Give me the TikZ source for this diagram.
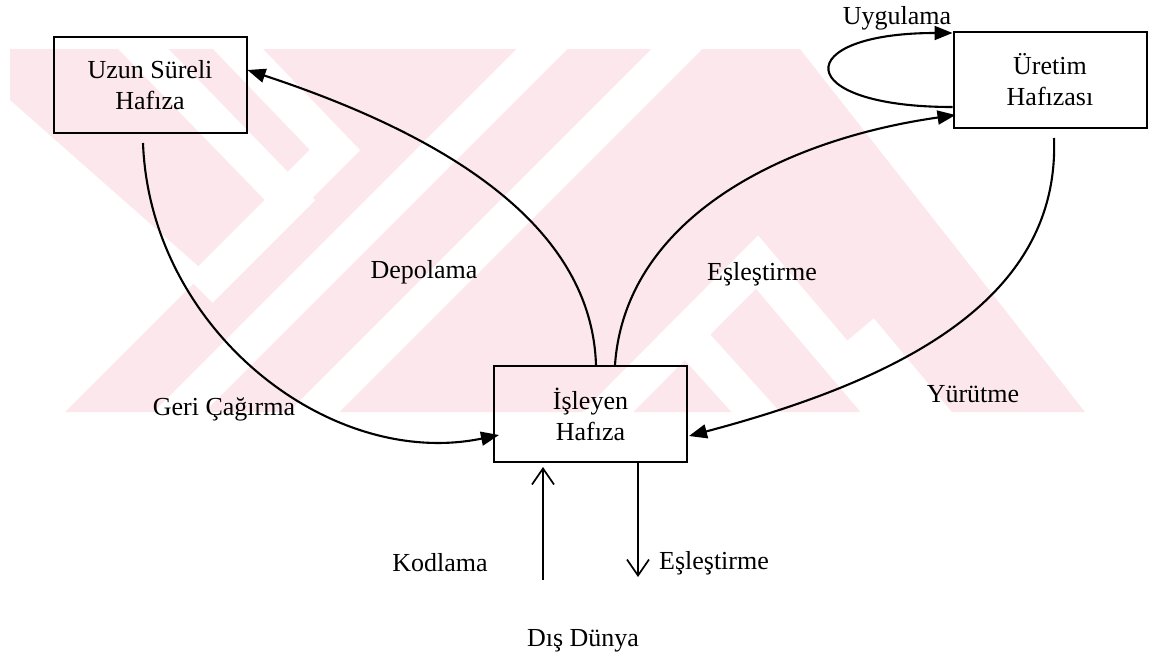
\documentclass[tikz,border=0pt]{standalone}
\usepackage{fontspec}
\setmainfont{Liberation Serif}
\usetikzlibrary{arrows.meta,calc}
\definecolor{wm}{RGB}{252,232,236}
\begin{document}
\begin{tikzpicture}[x=1pt,y=-1pt,
  box/.style={draw,line width=2pt,minimum width=193pt,minimum height=96pt,inner sep=0pt,align=center,font=\fontsize{26}{31}\selectfont},
  lbl/.style={font=\fontsize{26}{31}\selectfont,inner sep=0pt},
  conn/.style={line width=2.1pt,-{Triangle[length=18pt,width=14pt]}},
  plain/.style={line width=1.7pt,-{Straight Barb[length=16pt,width=22pt,line width=1.7pt]}},
  gap/.style={white,line width=36pt,line join=miter,miter limit=10}]
\useasboundingbox (0,0) rectangle (1149,657);
% watermark
\begin{scope}
\clip (10,49) rectangle (1090,412);
\fill[wm] (10,49) -- (800,49) -- (1085,412) -- (65,412) -- (205,272) -- (10,100) -- cycle;
\draw[gap] (560,31) -- (161,430);
\draw[gap] (695,31) -- (296,430);
\draw[gap] (120,25) -- (290,200) -- (200,290);
\draw[gap] (215,25) -- (335,150) -- (300,185);
\draw[gap] (560,460) -- (757,262) -- (925,460);
\draw[gap] (682,330) -- (790,450);
\draw[gap] (860,330) -- (960,450);
\end{scope}
% nodes
\node[box] (A) at (150,85) {Uzun Süreli\\Hafıza};
\node[box] (B) at (1050,80) {Üretim\\Hafızası};
\node[box] (C) at (590.5,414) {İşleyen\\Hafıza};
\coordinate (K0) at (543,580);
\coordinate (E0) at (638,577);
% labels
\node[lbl] (ldep) at (424,272) {Depolama};
\node[lbl] (lesu) at (762,274) {Eşleştirme};
\node[lbl] (lgeri) at (224,409) {Geri Çağırma};
\node[lbl] (lyur) at (973,394) {Yürütme};
\node[lbl] (luyg) at (897,18) {Uygulama};
\node[lbl] (lkod) at (440,563) {Kodlama};
\node[lbl] (lesa) at (714,563) {Eşleştirme};
\node[lbl] (ldis) at (583,641) {Dış Dünya};
% connectors
\draw[conn] ($(A.south)+(-7,9)$) .. controls (150,330) and (330,470) .. ($(C.west)+(6,21)$);
\draw[conn] ($(C.north)+(5.5,0)$) .. controls (592,240) and (475,145) .. ($(A.east)+(0,-15)$);
\draw[conn] ($(C.north)+(24.5,0)$) .. controls (625,220) and (780,140) .. ($(B.west)+(3,35)$);
\draw[conn] ($(B.south)+(4,9)$) .. controls (1060,300) and (900,380) .. ($(C.east)+(1,22)$);
\draw[conn] ($(B.west)+(0,27)$) .. controls (790,107) and (790,33) .. ($(B.west)+(0,-47)$);
\draw[plain] (K0) -- ($(C.south)+(-47.5,4)$);
\draw[plain] ($(C.south)+(47.5,0)$) -- (E0);
\end{tikzpicture}
\end{document}
